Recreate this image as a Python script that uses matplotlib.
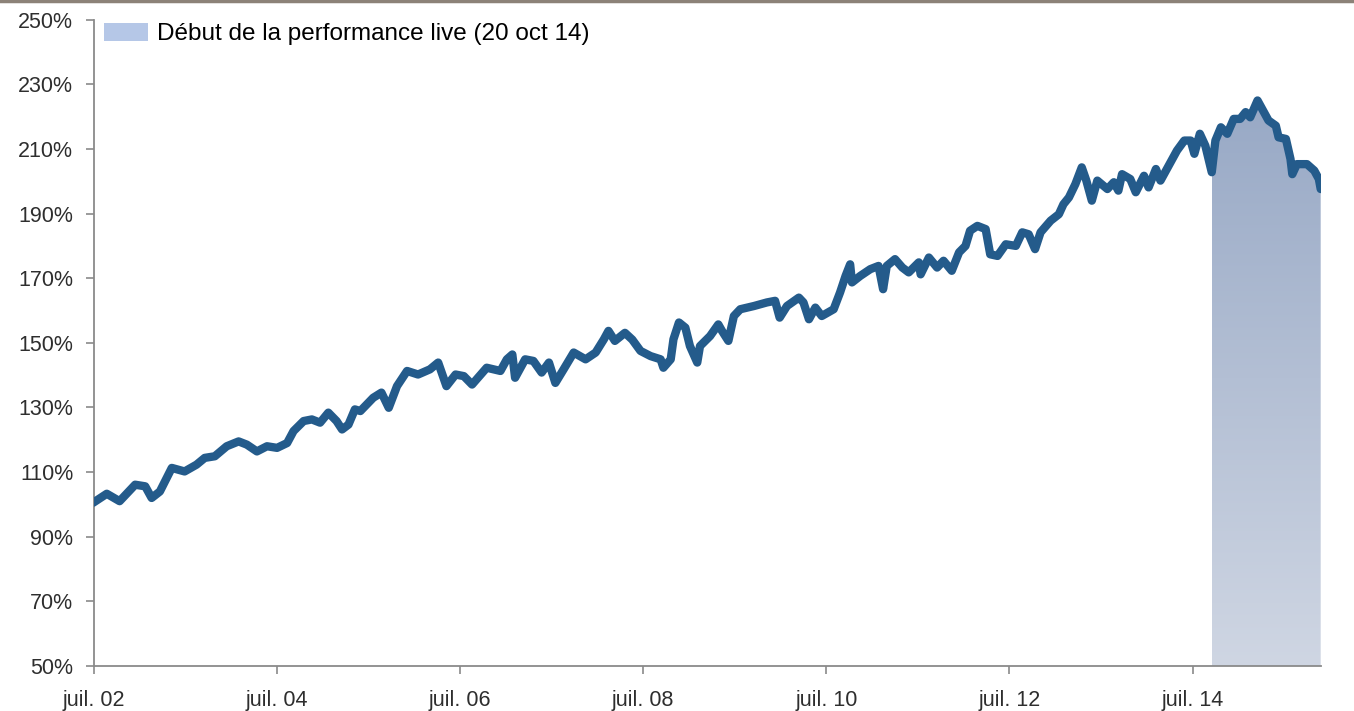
import numpy as np
import matplotlib.pyplot as plt
from matplotlib.colors import LinearSegmentedColormap
from matplotlib.patches import Patch

# performance (base 100 %), années décimales
annees = [
    2002.49, 2002.64, 2002.78, 2002.95, 2003.06, 2003.13, 2003.22, 2003.35,
    2003.49, 2003.62, 2003.71, 2003.82, 2003.95, 2004.08, 2004.17, 2004.28,
    2004.39, 2004.50, 2004.61, 2004.68, 2004.79, 2004.88, 2004.97, 2005.06,
    2005.15, 2005.21, 2005.28, 2005.35, 2005.41, 2005.55, 2005.64, 2005.72,
    2005.81, 2005.92, 2006.04, 2006.17, 2006.26, 2006.35, 2006.45, 2006.54,
    2006.63, 2006.79, 2006.94, 2007.01, 2007.07, 2007.10, 2007.21, 2007.30,
    2007.39, 2007.47, 2007.54, 2007.63, 2007.74, 2007.87, 2007.98, 2008.07,
    2008.12, 2008.19, 2008.30, 2008.38, 2008.47, 2008.58, 2008.69, 2008.72,
    2008.80, 2008.83, 2008.89, 2008.96, 2009.01, 2009.09, 2009.12, 2009.23,
    2009.32, 2009.36, 2009.43, 2009.49, 2009.56, 2009.71, 2009.85, 2009.94,
    2009.99, 2010.07, 2010.20, 2010.25, 2010.31, 2010.38, 2010.45, 2010.58,
    2010.65, 2010.71, 2010.76, 2010.78, 2010.87, 2010.98, 2011.07, 2011.12,
    2011.16, 2011.25, 2011.33, 2011.40, 2011.51, 2011.53, 2011.62, 2011.71,
    2011.78, 2011.87, 2011.95, 2012.02, 2012.07, 2012.15, 2012.24, 2012.29,
    2012.37, 2012.46, 2012.57, 2012.64, 2012.71, 2012.78, 2012.84, 2012.95,
    2013.04, 2013.09, 2013.15, 2013.22, 2013.29, 2013.34, 2013.40, 2013.46,
    2013.57, 2013.64, 2013.69, 2013.73, 2013.82, 2013.88, 2013.97, 2014.02,
    2014.10, 2014.15, 2014.26, 2014.33, 2014.41, 2014.48, 2014.52, 2014.58,
    2014.64, 2014.71, 2014.75, 2014.81, 2014.88, 2014.95, 2015.02, 2015.08,
    2015.13, 2015.21, 2015.28, 2015.33, 2015.41, 2015.44, 2015.52, 2015.57,
    2015.59, 2015.64, 2015.75, 2015.83, 2015.88, 2015.90,
]
performance = [
    100.5, 103.3, 101.0, 106.1, 105.6, 102.0, 104.0, 111.3,
    110.2, 112.3, 114.4, 114.9, 118.0, 119.5, 118.5, 116.4,
    118.0, 117.5, 119.0, 122.7, 125.8, 126.3, 125.3, 128.4,
    125.8, 123.2, 124.7, 129.4, 128.9, 133.0, 134.6, 129.9,
    136.6, 141.3, 140.2, 141.8, 143.9, 136.6, 140.2, 139.7,
    137.1, 142.3, 141.3, 144.9, 146.4, 139.2, 144.9, 144.4,
    140.8, 143.9, 137.6, 141.8, 147.0, 144.9, 147.0, 151.1,
    153.7, 150.6, 153.1, 151.0, 147.5, 145.9, 144.9, 142.3,
    144.9, 151.1, 156.3, 154.7, 149.0, 143.9, 149.0, 152.1,
    155.7, 153.7, 150.6, 158.3, 160.4, 161.4, 162.5, 163.0,
    157.8, 161.4, 164.0, 162.5, 157.3, 160.9, 158.3, 160.4,
    165.6, 170.7, 174.3, 168.7, 170.7, 172.8, 173.8, 166.6,
    173.8, 175.9, 173.3, 171.8, 174.9, 171.2, 176.4, 173.3,
    175.4, 172.3, 178.0, 180.0, 184.7, 186.2, 185.2, 177.4,
    176.9, 180.5, 180.0, 184.2, 183.6, 179.0, 184.2, 187.8,
    189.8, 192.9, 195.0, 199.1, 204.3, 200.2, 194.0, 200.2,
    197.6, 199.7, 197.1, 202.2, 200.7, 196.6, 201.7, 198.1,
    203.8, 200.2, 205.9, 209.5, 212.6, 212.6, 208.5, 214.7,
    211.0, 202.8, 212.6, 216.7, 214.7, 219.3, 219.3, 221.4,
    219.8, 225.0, 221.4, 218.8, 217.2, 213.6, 213.1, 206.9,
    202.2, 205.3, 205.3, 203.3, 200.7, 197.6,
]
debut_live = 2014.71
ticks_x = [2002.5, 2004.5, 2006.5, 2008.5, 2010.5, 2012.5, 2014.5]
labels_x = ['juil. 02', 'juil. 04', 'juil. 06', 'juil. 08',
            'juil. 10', 'juil. 12', 'juil. 14']
ticks_y = list(range(50, 251, 20))

plt.rcParams['font.family'] = ['Liberation Sans', 'DejaVu Sans']

x = np.array(annees)
y = np.array(performance)

fig = plt.figure(figsize=(13.54, 7.11), dpi=100)
ax = fig.add_axes([0.0694, 0.0633, 0.906, 0.909])

# zone live avec dégradé
masque = x >= debut_live
zone = ax.fill_between(x[masque], y[masque], 50, color='none', lw=0)
degrade = LinearSegmentedColormap.from_list('live', ['#cfd6e3', '#97a8c5'])
img = ax.imshow(np.linspace(0, 1, 256).reshape(-1, 1), cmap=degrade,
                aspect='auto', origin='lower',
                extent=[debut_live, x[-1], 50, 228], zorder=1)
img.set_clip_path(zone.get_paths()[0], ax.transData)

ax.plot(x, y, color='#245b8b', lw=6, solid_joinstyle='round',
        solid_capstyle='round', zorder=3)

ax.set_xlim(2002.5, 2015.9)
ax.set_ylim(50, 250)
ax.set_xticks(ticks_x)
ax.set_xticklabels(labels_x)
ax.set_yticks(ticks_y)
ax.set_yticklabels([f'{v}%' for v in ticks_y])

for s in ['top', 'right']:
    ax.spines[s].set_visible(False)
for s in ['left', 'bottom']:
    ax.spines[s].set_color('#8a8a8a')
    ax.spines[s].set_linewidth(1.3)
ax.tick_params(colors='#8a8a8a', labelcolor='#2e2e2e', labelsize=15.5,
               length=6, width=1.2, direction='out')
ax.tick_params(axis='y', pad=9)
ax.tick_params(axis='x', pad=11)

ax.legend(handles=[Patch(facecolor='#b5c7e7', edgecolor='none',
                         label='Début de la performance live (20 oct 14)')],
          loc='upper left', bbox_to_anchor=(104 / 1354, 1 - 23 / 711),
          bbox_transform=fig.transFigure, frameon=False,
          fontsize=17.5, handlelength=1.8, handleheight=0.75,
          handletextpad=0.37, borderpad=0.0, borderaxespad=0.0)

# filet du haut
fig.add_artist(plt.Line2D([0, 1], [0.998, 0.998], color='#8c8278', lw=2.5,
                          transform=fig.transFigure))

fig.savefig('out.png', dpi=100)
